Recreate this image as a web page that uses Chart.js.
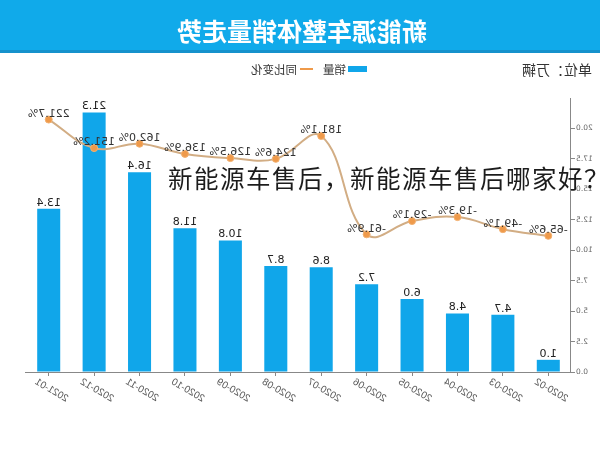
<!DOCTYPE html>
<html>
<head>
<meta charset="utf-8">
<script src="https://cdn.jsdelivr.net/npm/chart.js@4.4.1/dist/chart.umd.min.js"></script>
<style>
  html,body{margin:0;padding:0;background:#fff;}
  #wrap{position:relative;width:600px;height:449px;overflow:hidden;}
  #flip{position:absolute;left:0;top:0;width:600px;height:449px;transform:scaleX(-1);}
  #titlebar{position:absolute;left:0;top:0;width:600px;height:50px;background:#10aaea;border-bottom:3px solid #1592cc;}
  #title{position:absolute;left:0;top:14px;width:596px;text-align:center;color:#fff;font:bold 25px "Noto Sans CJK SC";line-height:32px;}
  #unit{position:absolute;left:8px;top:60px;font:14px "Noto Sans CJK SC";line-height:18px;color:#333;}
  .lg{position:absolute;font:11.5px "Noto Sans CJK SC";line-height:14px;color:#333;top:62px;}
  #c{position:absolute;left:0;top:0;}
  #overlay{position:absolute;left:168px;top:164px;font:24.5px "Noto Sans CJK SC";letter-spacing:1.5px;line-height:28px;color:#1c1c1c;white-space:nowrap;}
</style>
</head>
<body>
<div id="wrap">
  <div id="flip">
    <canvas id="c" width="600" height="449"></canvas>
    <div id="titlebar"></div>
    <div id="title">新能源车整体销量走势</div>
    <div id="unit">单位：万辆</div>
    <div style="position:absolute;left:233px;top:66px;width:19px;height:6px;background:#10a6ea;"></div>
    <div class="lg" style="left:254px;">销量</div>
    <div style="position:absolute;left:287px;top:68px;width:13px;height:2px;background:#ef9a4a;"></div>
    <div class="lg" style="left:303px;">同比变化</div>
  </div>
  <div id="overlay">新能源车售后，新能源车售后哪家好？</div>
</div>
<script>
const categories = ['2020-02','2020-03','2020-04','2020-05','2020-06','2020-07','2020-08','2020-09','2020-10','2020-11','2020-12','2021-01'];
const sales = [1.0, 4.7, 4.8, 6.0, 7.2, 8.6, 8.7, 10.8, 11.8, 16.4, 21.3, 13.4];
const growth = [-65.6, -49.1, -19.3, -29.1, -61.9, 181.1, 124.6, 126.5, 136.9, 162.0, 151.2, 221.7];
const yTicks = [0, 2.5, 5, 7.5, 10, 12.5, 15, 17.5, 20];

const labelPlugin = {
  id: 'valueLabels',
  afterDatasetsDraw(chart) {
    const ctx = chart.ctx;
    ctx.save();
    ctx.textAlign = 'center';
    ctx.textBaseline = 'middle';
    ctx.font = '11px "DejaVu Sans"';
    const barMeta = chart.getDatasetMeta(0);
    barMeta.data.forEach((el, i) => {
      ctx.fillStyle = '#222';
      ctx.fillText(sales[i].toFixed(1), el.x, el.y - 6);
    });
    const lineMeta = chart.getDatasetMeta(1);
    lineMeta.data.forEach((el, i) => {
      ctx.fillStyle = '#333';
      ctx.fillText(growth[i].toFixed(1) + '%', el.x, el.y - 5.5);
    });
    ctx.restore();
  }
};

new Chart(document.getElementById('c'), {
  data: {
    labels: categories,
    datasets: [
      {
        type: 'bar', label: '销量', data: sales, yAxisID: 'y', order: 2,
        backgroundColor: '#10a6ea', borderWidth: 0,
        categoryPercentage: 1, barPercentage: 0.507
      },
      {
        type: 'line', label: '同比变化', data: growth, yAxisID: 'y1', order: 1,
        borderColor: '#d2ad84', borderWidth: 2, tension: 0.4,
        pointRadius: 3.5, pointBackgroundColor: '#ef9a4a', pointBorderColor: '#f2b070', pointBorderWidth: 1
      }
    ]
  },
  options: {
    responsive: false,
    animation: false,
    devicePixelRatio: 1,
    layout: { padding: { top: 98, right: 26, left: 0, bottom: 0 } },
    plugins: { legend: { display: false }, tooltip: { enabled: false } },
    scales: {
      x: {
        offset: true,
        grid: { offset: false, drawOnChartArea: false, tickLength: 4, color: '#888' },
        border: { color: '#888', width: 1 },
        ticks: { autoSkip: false, minRotation: 30, maxRotation: 30, color: '#555', labelOffset: 13, padding: 0,
                 font: { family: 'Liberation Sans', size: 10 } },
        afterFit(s) { s.height = 77; }
      },
      y: {
        position: 'left', min: 0, max: 22.5,
        afterBuildTicks(s) { s.ticks = yTicks.map(v => ({ value: v })); },
        grid: { drawOnChartArea: false, tickLength: 4, color: '#888' },
        border: { color: '#888', width: 1 },
        ticks: { color: '#666', padding: 1, font: { family: 'DejaVu Sans', size: 7.5 },
                 callback: v => Number(v).toFixed(1) },
        afterFit(s) { s.width = 29; }
      },
      y1: { display: false, min: -402, max: 275 }
    }
  },
  plugins: [labelPlugin]
});
</script>
</body>
</html>
